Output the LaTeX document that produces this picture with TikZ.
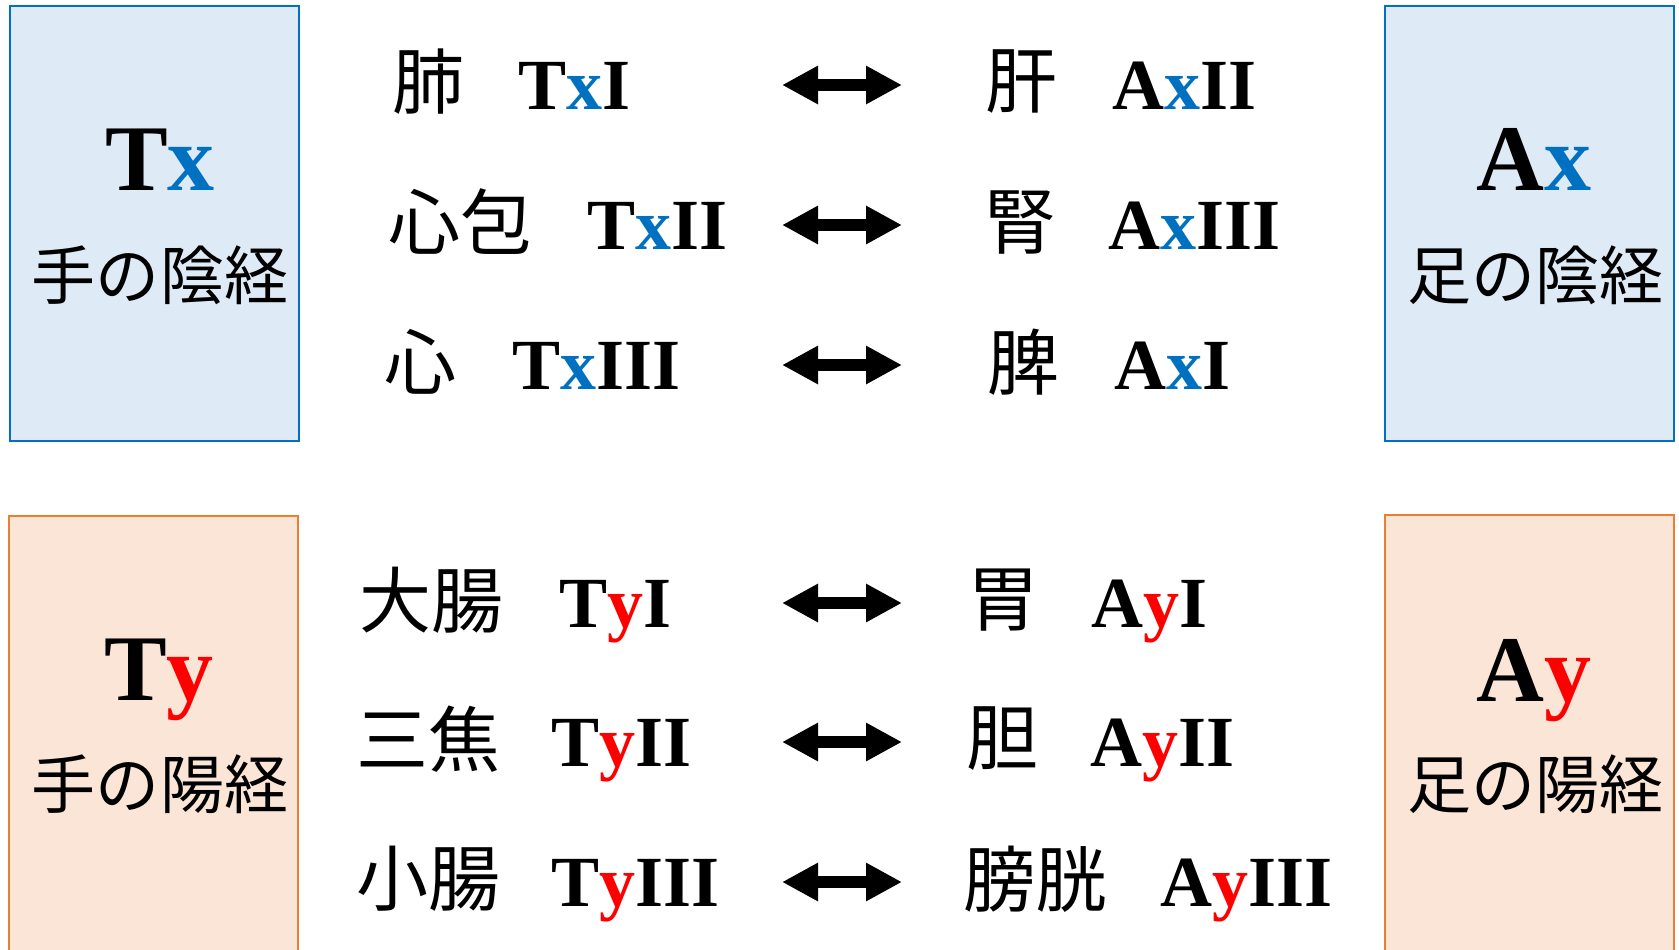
\documentclass[tikz,border=0pt]{standalone}
\usepackage{fontspec}
\setmainfont{Liberation Serif}[BoldFont={Liberation Serif Bold}]
\newfontfamily\cjk{Noto Sans CJK JP}
\usetikzlibrary{arrows.meta}
\definecolor{xblue}{HTML}{0070C0}
\definecolor{yred}{HTML}{FF0000}
\definecolor{bluefill}{HTML}{DEEBF7}
\definecolor{blueline}{HTML}{0070C0}
\definecolor{orfill}{HTML}{FBE5D6}
\definecolor{orline}{HTML}{ED7D31}
\begin{document}
\begin{tikzpicture}[x=0.5pt,y=-0.5pt,
  box/.style={draw, line width=1.4pt, minimum width=144.5pt, minimum height=217.5pt, inner sep=0pt},
  bluebox/.style={box, draw=blueline, fill=bluefill},
  orbox/.style={box, draw=orline, fill=orfill, minimum height=220pt},
  big/.style={font=\fontsize{47}{47}\selectfont\bfseries, anchor=base, inner sep=0pt},
  bigjp/.style={font=\fontsize{32}{32}\selectfont\cjk, anchor=center, inner sep=0pt},
  lat/.style={font=\fontsize{36}{36}\selectfont\bfseries, anchor=base west, inner sep=0pt},
  jp/.style={font=\fontsize{36}{36}\selectfont\cjk, anchor=center, inner sep=0pt},
  dbl/.style={line width=6pt, {Triangle[length=18pt,width=18pt]}-{Triangle[length=18pt,width=18pt]}}
]
\path[use as bounding box] (0,0) rectangle (1679,949);
\clip (0,0) rectangle (1679,949);
\fill[white] (0,0) rectangle (1679,949);

% boxes
\node[bluebox] (TxBox) at (154.5,223.5) {};
\node[bluebox] (AxBox) at (1529.5,223.5) {};
\node[orbox] (TyBox) at (153.5,736) {};
\node[orbox] (AyBox) at (1529.5,735) {};

\node[big] (Tx) at (160,190) {T\textcolor{xblue}{x}};
\node[bigjp] (TxJ) at (160,275) {手の陰経};
\node[big] (Ax) at (1534,190) {A\textcolor{xblue}{x}};
\node[bigjp] (AxJ) at (1535,275) {足の陰経};
\node[big] (Ty) at (159,700) {T\textcolor{yred}{y}};
\node[bigjp] (TyJ) at (160,784) {手の陽経};
\node[big] (Ay) at (1534,701) {A\textcolor{yred}{y}};
\node[bigjp] (AyJ) at (1535,784) {足の陽経};

% row 1
\node[jp] (r1a) at (428,82) {肺};
\node[lat] (r1b) at (518,109) {T\textcolor{xblue}{x}I};
\node[jp] (r1c) at (1021,82) {肝};
\node[lat] (r1d) at (1112,109) {A\textcolor{xblue}{x}II};
% row 2
\node[jp] (r2a) at (460,222) {心包};
\node[lat] (r2b) at (587,249) {T\textcolor{xblue}{x}II};
\node[jp] (r2c) at (1020,222) {腎};
\node[lat] (r2d) at (1108,249) {A\textcolor{xblue}{x}III};
% row 3
\node[jp] (r3a) at (420,362) {心};
\node[lat] (r3b) at (512,389) {T\textcolor{xblue}{x}III};
\node[jp] (r3c) at (1023,362) {脾};
\node[lat] (r3d) at (1114,389) {A\textcolor{xblue}{x}I};
% row 4
\node[jp] (r4a) at (431,600) {大腸};
\node[lat] (r4b) at (559,627) {T\textcolor{yred}{y}I};
\node[jp] (r4c) at (1003,600) {胃};
\node[lat] (r4d) at (1091,627) {A\textcolor{yred}{y}I};
% row 5
\node[jp] (r5a) at (428,739) {三焦};
\node[lat] (r5b) at (551,766) {T\textcolor{yred}{y}II};
\node[jp] (r5c) at (1002,739) {胆};
\node[lat] (r5d) at (1090,766) {A\textcolor{yred}{y}II};
% row 6
\node[jp] (r6a) at (428,879) {小腸};
\node[lat] (r6b) at (551,906) {T\textcolor{yred}{y}III};
\node[jp] (r6c) at (1035,879) {膀胱};
\node[lat] (r6d) at (1160,906) {A\textcolor{yred}{y}III};

% arrows
\foreach \i/\yy in {1/85,2/225,3/365,4/603,5/742,6/882}{
  \coordinate (a\i l) at (782,\yy);
  \coordinate (a\i r) at (902,\yy);
  \draw[dbl] (a\i l) -- (a\i r);
}
\end{tikzpicture}
\end{document}
